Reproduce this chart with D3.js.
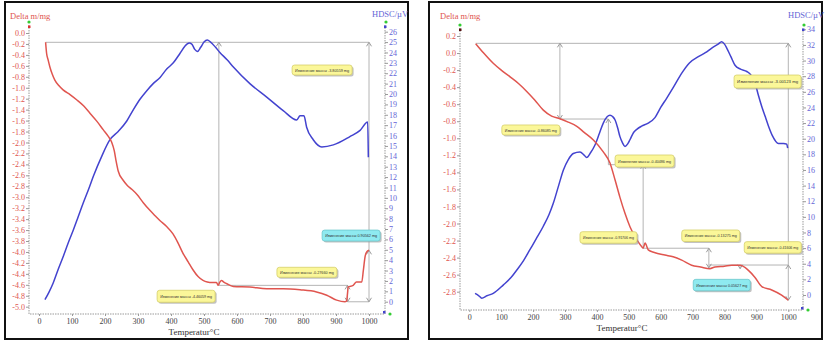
<!DOCTYPE html>
<html>
<head>
<meta charset="utf-8">
<script src="https://cdn.jsdelivr.net/npm/d3@7"></script>
<style>
  body { margin: 0; background: #fff; }
  svg text { font-family: "Liberation Serif", "Times New Roman", serif; }
  .box-text { font-family: "Liberation Sans", Arial, sans-serif; fill: #333; }
  .axis path, .axis line { stroke: #9a9a9a; }
  .axis path { stroke-dasharray: 1.5,1; }
</style>
</head>
<body>
<svg id="chart" width="826" height="343"></svg>
<script>
const tempTicks = [0, 100, 200, 300, 400, 500, 600, 700, 800, 900, 1000];

// left sample
const leftTgTicks = [0.0, -0.2, -0.4, -0.6, -0.8, -1.0, -1.2, -1.4, -1.6, -1.8, -2.0, -2.2, -2.4,
  -2.6, -2.8, -3.0, -3.2, -3.4, -3.6, -3.8, -4.0, -4.2, -4.4, -4.6, -4.8, -5.0];
const leftDscTicks = [0, 1, 2, 3, 4, 5, 6, 7, 8, 9, 10, 11, 12, 13, 14, 15, 16, 17, 18, 19, 20,
  21, 22, 23, 24, 25, 26];

const leftTg = [[20, -0.17], [23, -0.37], [28, -0.5], [33, -0.62], [40, -0.75], [48, -0.86],
  [60, -0.96], [73, -1.04], [95, -1.13], [114, -1.22], [135, -1.33], [155, -1.47], [175, -1.61],
  [195, -1.77], [210, -1.89], [220, -1.99], [228, -2.15], [234, -2.35], [240, -2.52], [255, -2.69],
  [267, -2.78], [282, -2.86], [297, -2.95], [316, -3.1], [336, -3.24], [352, -3.34], [367, -3.43],
  [386, -3.53], [406, -3.67], [420, -3.82], [436, -4.02], [452, -4.18], [467, -4.33], [482, -4.45],
  [497, -4.52], [510, -4.55], [525, -4.56], [538, -4.56], [543, -4.61], [548, -4.55], [553, -4.52],
  [560, -4.55], [569, -4.58], [589, -4.63], [639, -4.64], [690, -4.67], [740, -4.67], [791, -4.69],
  [841, -4.73], [872, -4.79], [902, -4.88], [927, -4.91], [932, -4.9], [935, -4.75], [937, -4.64],
  [952, -4.61], [962, -4.55], [978, -4.55], [983, -4.33], [988, -4.09], [993, -4.0], [1000, -3.97]];

const leftDsc = [[18, 0.2], [30, 0.9], [43, 1.8], [58, 3.1], [74, 4.4], [89, 5.7], [104, 6.9],
  [119, 8.2], [134, 9.5], [150, 10.8], [165, 12.1], [190, 14.0], [215, 15.6], [240, 16.4],
  [266, 17.4], [286, 18.5], [306, 19.5], [326, 20.3], [346, 21.0], [367, 21.6], [387, 22.4],
  [407, 23.0], [427, 23.9], [442, 24.6], [455, 24.9], [463, 24.8], [472, 24.3], [480, 24.1],
  [490, 24.5], [500, 25.0], [510, 25.2], [520, 25.0], [535, 24.5], [548, 24.0], [570, 23.3],
  [589, 22.6], [639, 21.0], [690, 19.7], [740, 18.4], [781, 17.5], [791, 17.9], [803, 17.9],
  [811, 16.8], [831, 15.6], [857, 14.9], [892, 15.1], [942, 15.9], [973, 16.5], [996, 17.3],
  [998, 13.9]];

const leftGuides = [[[20, -0.17], [1000, -0.17]], [[545, -0.17], [545, -4.61]],
  [[1000, -0.17], [1000, -4.91]], [[545, -4.61], [935, -4.61]], [[935, -4.61], [935, -4.91]],
  [[935, -4.91], [1000, -4.91]]];
const leftArrows = [[545, -0.17, "up"], [1000, -0.17, "up"], [1000, -4.91, "down"],
  [1000, -3.97, "up"], [935, -4.61, "up"], [935, -4.91, "down"]];
const leftLabels = ["Изменение массы -3.80559 mg", "Изменение массы -4.46059 mg",
  "Изменение массы -0.27660 mg", "Изменение массы 0.90562 mg"];

// right sample
const rightTgTicks = [0.2, 0.0, -0.2, -0.4, -0.6, -0.8, -1.0, -1.2, -1.4, -1.6, -1.8, -2.0,
  -2.2, -2.4, -2.6, -2.8];
const rightDscTicks = [0, 2, 4, 6, 8, 10, 12, 14, 16, 18, 20, 22, 24, 26, 28, 30, 32, 34];

const rightTg = [[20, 0.11], [45, 0.0], [75, -0.12], [100, -0.2], [128, -0.28], [155, -0.36],
  [180, -0.45], [205, -0.55], [232, -0.67], [258, -0.74], [284, -0.77], [310, -0.81],
  [337, -0.86], [360, -0.93], [389, -1.02], [420, -1.16], [441, -1.29], [457, -1.49],
  [472, -1.69], [488, -1.88], [504, -2.04], [525, -2.19], [540, -2.27], [545, -2.29],
  [551, -2.23], [561, -2.31], [580, -2.34], [613, -2.37], [639, -2.39], [666, -2.43],
  [697, -2.49], [725, -2.51], [754, -2.53], [770, -2.51], [800, -2.5], [823, -2.49],
  [849, -2.49], [875, -2.55], [895, -2.63], [917, -2.74], [948, -2.78], [979, -2.84],
  [1000, -2.9]];

const rightDsc = [[18, 0.2], [30, -0.1], [39, -0.4], [55, -0.1], [75, 0.2], [107, 1.3],
  [130, 2.2], [149, 3.2], [170, 4.4], [190, 5.8], [210, 7.2], [232, 8.8], [250, 10.3],
  [263, 11.7], [280, 14.0], [295, 16.0], [310, 17.3], [326, 18.1], [347, 18.3], [360, 17.9],
  [368, 17.6], [380, 18.2], [394, 19.2], [408, 20.7], [420, 22.0], [432, 22.8], [441, 23.0],
  [450, 22.8], [457, 22.4], [465, 21.4], [472, 20.3], [480, 19.5], [488, 19.0], [496, 19.3],
  [504, 19.9], [515, 20.8], [525, 21.2], [540, 21.6], [561, 22.0], [582, 22.7], [600, 24.0],
  [619, 25.2], [640, 26.6], [666, 28.4], [690, 29.7], [718, 30.5], [740, 31.0], [760, 31.6],
  [780, 32.1], [791, 32.4], [800, 32.1], [807, 31.6], [820, 30.5], [833, 29.4], [850, 28.9],
  [870, 28.6], [882, 28.2], [896, 27.1], [906, 25.6], [917, 24.1], [928, 22.8], [938, 21.6],
  [950, 20.4], [969, 19.4], [985, 19.4], [995, 19.3], [998, 18.8]];

const rightGuides = [[[20, 0.114], [1000, 0.114]], [[284, 0.114], [284, -0.774]],
  [[284, -0.774], [436, -0.774]], [[436, -0.774], [436, -1.31]], [[436, -1.31], [545, -1.31]],
  [[545, -1.31], [545, -2.29]], [[545, -2.29], [751, -2.29]], [[751, -2.29], [751, -2.52]],
  [[751, -2.487], [1000, -2.487]], [[849, -2.487], [849, -2.53]], [[1000, 0.114], [1000, -2.9]]];
const rightArrows = [[284, 0.114, "up"], [284, -0.774, "down"], [436, -0.774, "up"],
  [545, -1.31, "up"], [751, -2.29, "up"], [751, -2.52, "down"], [849, -2.53, "down"],
  [1000, 0.114, "up"], [1000, -2.487, "up"], [1000, -2.9, "down"]];
const rightLabels = ["Изменение массы -0.86085 mg", "Изменение массы -0.40486 mg",
  "Изменение массы -0.91706 mg", "Изменение массы -0.13275 mg", "Изменение массы -0.41606 mg",
  "Изменение массы 0.05627 mg", "Изменение массы -3.00123 mg"];

const red = "#e0554f";
const blue = "#4343cf";
const svg = d3.select("#chart");

const panels = [
  {
    frame: [5, 2, 408, 339],
    xRange: [39, 369], axisL: 29, axisR: 385, axisB: 314, axisT: 25,
    tgDomain: [0, -5], tgRange: [33, 306.7], tgTicks: leftTgTicks,
    dscDomain: [0, 26], dscRange: [301.7, 31.7], dscTicks: leftDscTicks,
    tg: leftTg, dsc: leftDsc, guides: leftGuides, arrows: leftArrows,
    texts: leftLabels,
    boxes: [[767, -0.585, 60, 10, 0], [358, -4.70, 58, 12, 0], [721, -4.28, 60, 10, 0],
      [858, -3.60, 58, 11, 1]],
    tgTitle: [10, 19], dscTitle: [372, 17], xTitle: [194, 335], xLblY: 325,
    tgMark: "#d33"
  },
  {
    frame: [429, 2, 822, 339],
    xRange: [469.3, 788.3], axisL: 460, axisR: 803, axisB: 310, axisT: 28,
    tgDomain: [0.2, -2.8], tgRange: [36, 291.7], tgTicks: rightTgTicks,
    dscDomain: [0, 34], dscRange: [295, 29.3], dscTicks: rightDscTicks,
    tg: rightTg, dsc: rightDsc, guides: rightGuides, arrows: rightArrows,
    texts: rightLabels,
    boxes: [[102, -0.844, 58, 10, 0], [457, -1.196, 59, 12, 0], [347, -2.096, 57, 11.5, 0],
      [666, -2.076, 58, 11.5, 0], [862, -2.213, 57, 11.5, 0], [702, -2.655, 57, 11.5, 1],
      [830, -0.258, 67, 13, 0]],
    tgTitle: [440, 19], dscTitle: [788, 18], xTitle: [622, 331], xLblY: 321,
    tgMark: "#511"
  }
];

function arrowPath(px, py, dir) {
  const s = dir === "up" ? 1 : -1;
  return `M${px - 2.5},${py + 4 * s} L${px},${py} L${px + 2.5},${py + 4 * s}`;
}

function drawPanel(p) {
  const g = svg.append("g");
  const x = d3.scaleLinear().domain([0, 1000]).range(p.xRange);
  const yTg = d3.scaleLinear().domain(p.tgDomain).range(p.tgRange);
  const yDsc = d3.scaleLinear().domain(p.dscDomain).range(p.dscRange);

  g.append("rect")
    .attr("x", p.frame[0]).attr("y", p.frame[1])
    .attr("width", p.frame[2] - p.frame[0]).attr("height", p.frame[3] - p.frame[1])
    .attr("fill", "#fff").attr("stroke", "#111").attr("stroke-width", 2);

  // axes
  const yL = d3.axisLeft(yTg).tickValues(p.tgTicks).tickSize(3).tickPadding(1)
    .tickFormat((d) => d.toFixed(1));
  const aL = g.append("g").attr("class", "axis").attr("transform", `translate(${p.axisL},0)`).call(yL);
  aL.select(".domain").remove();
  aL.selectAll("text").attr("fill", red).attr("font-size", 8).attr("font-family", "Liberation Serif");

  const yR = d3.axisRight(yDsc).tickValues(p.dscTicks).tickSize(3).tickPadding(1);
  const aR = g.append("g").attr("class", "axis").attr("transform", `translate(${p.axisR},0)`).call(yR);
  aR.select(".domain").remove();
  aR.selectAll("text").attr("fill", "#6464d6").attr("font-size", 8).attr("font-family", "Liberation Serif");

  const xA = d3.axisBottom(x).tickValues(tempTicks).tickSize(2).tickPadding(3)
    .tickFormat(d3.format("d"));
  const aB = g.append("g").attr("class", "axis").attr("transform", `translate(0,${p.axisB})`).call(xA);
  aB.select(".domain").remove();
  aB.selectAll("text").attr("fill", "#444").attr("font-size", 8).attr("font-family", "Liberation Serif")
    .attr("y", p.xLblY - p.axisB - 7);

  g.append("path")
    .attr("d", `M${p.axisL},${p.axisT} V${p.axisB} H${p.axisR} V${p.axisT}`)
    .attr("fill", "none").attr("stroke", "#9a9a9a").attr("stroke-dasharray", "1.5,1");

  // guide lines
  g.selectAll(".guide").data(p.guides).enter().append("line")
    .attr("class", "guide")
    .attr("x1", (d) => x(d[0][0])).attr("y1", (d) => yTg(d[0][1]))
    .attr("x2", (d) => x(d[1][0])).attr("y2", (d) => yTg(d[1][1]))
    .attr("stroke", "#b4b4b4").attr("stroke-width", 1);

  g.selectAll(".arrow").data(p.arrows).enter().append("path")
    .attr("class", "arrow")
    .attr("d", (d) => arrowPath(x(d[0]), yTg(d[1]), d[2]))
    .attr("fill", "none").attr("stroke", "#9c9c9c").attr("stroke-width", 1);

  // curves
  const lineTg = d3.line().x((d) => x(d[0])).y((d) => yTg(d[1])).curve(d3.curveMonotoneX);
  const lineDsc = d3.line().x((d) => x(d[0])).y((d) => yDsc(d[1])).curve(d3.curveMonotoneX);

  g.append("path").attr("d", lineDsc(p.dsc))
    .attr("fill", "none").attr("stroke", blue).attr("stroke-width", 1.5);
  g.append("path").attr("d", lineTg(p.tg))
    .attr("fill", "none").attr("stroke", red).attr("stroke-width", 1.5);

  // mass change boxes
  const box = g.selectAll(".box").data(p.boxes).enter().append("g")
    .attr("class", "box")
    .attr("transform", (d) => `translate(${x(d[0])},${yTg(d[1])})`);
  box.append("rect").attr("x", 1.5).attr("y", 1.5)
    .attr("width", (d) => d[2]).attr("height", (d) => d[3]).attr("rx", 2.5)
    .attr("fill", "#9a9a9a").attr("opacity", 0.6);
  box.append("rect")
    .attr("width", (d) => d[2]).attr("height", (d) => d[3]).attr("rx", 2.5)
    .attr("fill", (d) => (d[4] ? "#8eeaf0" : "#fbf799"))
    .attr("stroke", (d) => (d[4] ? "#6cc6cc" : "#d6cf6a")).attr("stroke-width", 0.8);
  box.append("text").attr("class", "box-text")
    .attr("x", 3).attr("y", (d) => d[3] / 2 + 1.6)
    .attr("font-size", (d) => ((d[2] - 6) / 14).toFixed(2))
    .attr("textLength", (d) => d[2] - 6).attr("lengthAdjust", "spacingAndGlyphs")
    .text((d, i) => p.texts[i]);

  // titles
  g.append("text").attr("x", p.tgTitle[0]).attr("y", p.tgTitle[1])
    .attr("font-size", 8.5).attr("fill", red).text("Delta m/mg");
  g.append("text").attr("x", p.dscTitle[0]).attr("y", p.dscTitle[1])
    .attr("font-size", 8.5).attr("fill", "#6464d6").text("HDSC/µV");
  g.append("text").attr("x", p.xTitle[0]).attr("y", p.xTitle[1])
    .attr("text-anchor", "middle").attr("font-size", 9).attr("fill", "#333").text("Temperatur°C");

  // small axis markers
  g.append("circle").attr("cx", p.axisL).attr("cy", p.axisT - 3).attr("r", 1.6).attr("fill", "#3c3");
  g.append("rect").attr("x", p.axisL - 1).attr("y", p.axisT + 0.5).attr("width", 2.5).attr("height", 2.5).attr("fill", p.tgMark);
  g.append("circle").attr("cx", p.axisR + 1).attr("cy", p.axisT - 3).attr("r", 1.6).attr("fill", "#3c3");
  g.append("rect").attr("x", p.axisR - 1).attr("y", p.axisT + 0.5).attr("width", 2.5).attr("height", 2.5).attr("fill", "#44c");
  g.append("rect").attr("x", p.axisR - 2).attr("y", p.axisB - 3).attr("width", 2.5).attr("height", 2.5).attr("fill", "#44c");
  g.append("circle").attr("cx", p.axisR + 5).attr("cy", p.axisB).attr("r", 1.6).attr("fill", "#3c3");
}

panels.forEach(drawPanel);
</script>
</body>
</html>
